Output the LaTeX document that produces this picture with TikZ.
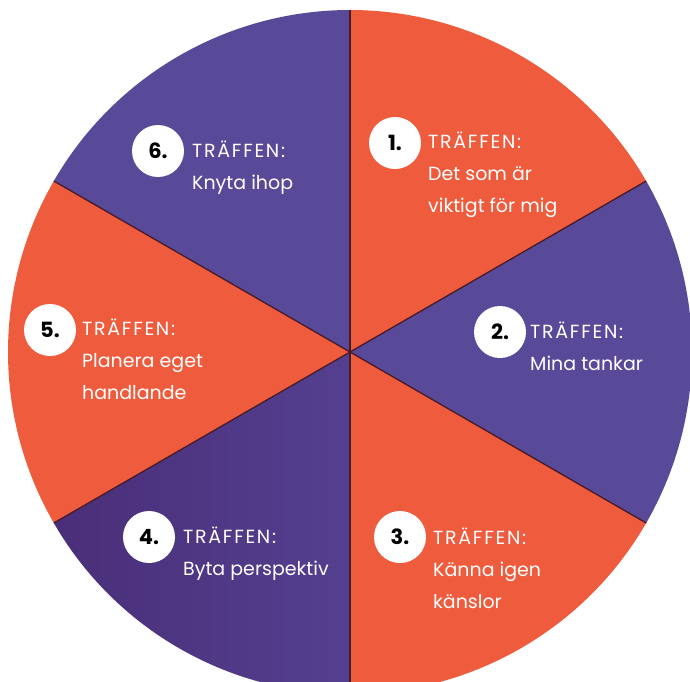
\documentclass[tikz,border=0pt]{standalone}
\usepackage{fontspec}
\setmainfont{Poppins}
\definecolor{wheelorange}{RGB}{238,91,61}
\definecolor{wheelpurple}{RGB}{88,74,152}
\definecolor{wheeldarkA}{RGB}{74,46,120}
\definecolor{wheeldarkB}{RGB}{84,64,144}
\definecolor{divider}{RGB}{72,26,40}
\newcommand{\trf}{{\addfontfeature{LetterSpace=9}TRÄFFEN:}}
\tikzset{
  numdisc/.style={circle, fill=white, minimum size=52pt, inner sep=0pt,
    font=\fontsize{21}{21}\selectfont\bfseries, text=black},
  lbl/.style={anchor=base west, text=white, align=left, inner sep=0pt,
    font=\fontsize{19}{32}\selectfont},
  divline/.style={draw=divider, line width=1.3pt}
}
\begin{document}
\begin{tikzpicture}[x=1pt,y=-1pt]
\useasboundingbox (0,0) rectangle (690,681);
\clip (0,0) rectangle (690,681);
\coordinate (c) at (350,352);
\def\R{342}
% y axis points down, so polar angles are mirrored: -a here is +a on the page
\fill[wheelorange] (c) -- ++(-30:\R) arc[start angle=-30,end angle=-90,radius=\R] -- cycle;
\fill[wheelpurple] (c) -- ++(30:\R) arc[start angle=30,end angle=-30,radius=\R] -- cycle;
\fill[wheelorange] (c) -- ++(90:\R) arc[start angle=90,end angle=30,radius=\R] -- cycle;
\shade[left color=wheeldarkA, right color=wheeldarkB] (c) -- ++(150:\R) arc[start angle=150,end angle=90,radius=\R] -- cycle;
\fill[wheelorange] (c) -- ++(-150:\R) arc[start angle=-150,end angle=-210,radius=\R] -- cycle;
\fill[wheelpurple] (c) -- ++(-90:\R) arc[start angle=-90,end angle=-150,radius=\R] -- cycle;
\foreach \a in {90,30,-30,-90,-150,150} \draw[divline] (c) -- ++(\a:\R);

\node[numdisc] (n1) at (395,143) {1.};
\node[lbl] (l1) at (428,212) {\trf\\Det som är\\viktigt för mig};
\node[numdisc] (n2) at (500,332) {2.};
\node[lbl] (l2) at (530,370) {\trf\\Mina tankar};
\node[numdisc] (n3) at (400,537) {3.};
\node[lbl] (l3) at (433,608) {\trf\\Känna igen\\känslor};
\node[numdisc] (n4) at (149,537) {4.};
\node[lbl] (l4) at (183,575) {\trf\\Byta perspektiv};
\node[numdisc] (n5) at (50,330) {5.};
\node[lbl] (l5) at (82,399) {\trf\\Planera eget\\handlande};
\node[numdisc] (n6) at (158,151) {6.};
\node[lbl] (l6) at (192,189) {\trf\\Knyta ihop};
\end{tikzpicture}
\end{document}
